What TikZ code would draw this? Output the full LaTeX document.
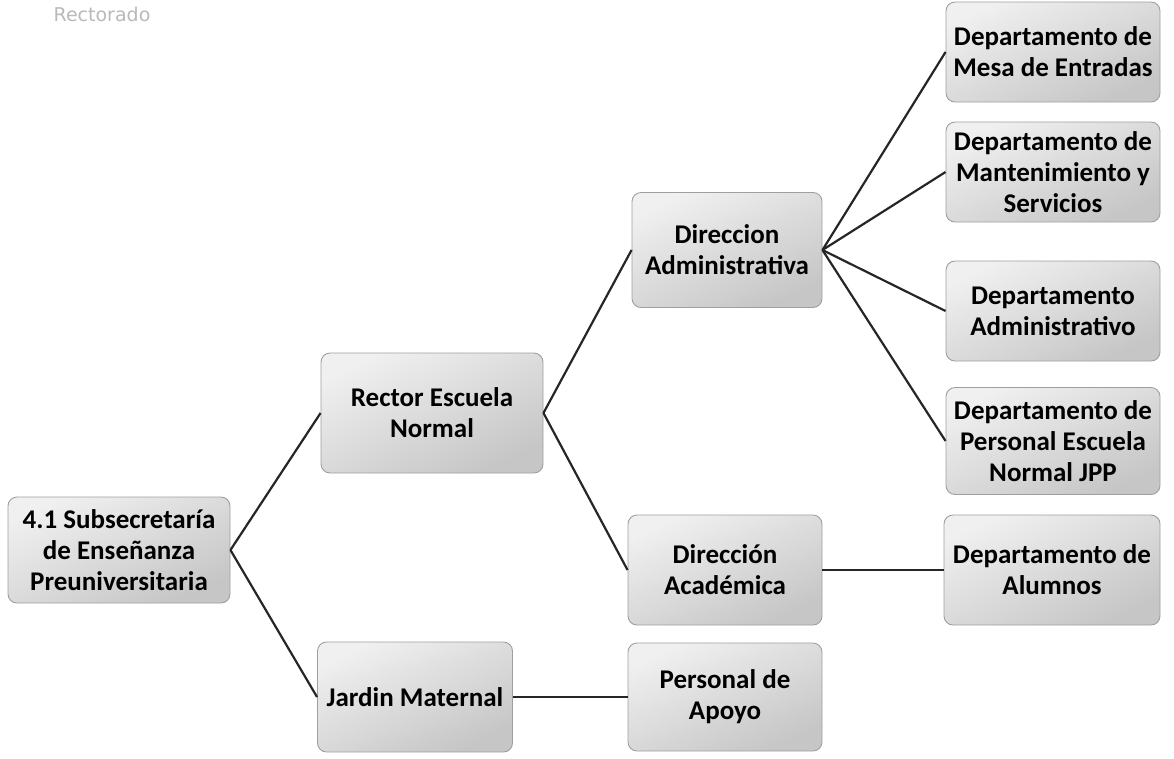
\documentclass[tikz,border=0pt]{standalone}
\usepackage{fontspec}
\setmainfont{Carlito}
\newfontfamily\headfont{DejaVu Sans}
\usepackage{tikz}

\tikzset{
  box/.style={draw=gray!75, line width=0.9pt, rounded corners=9pt,
    top color=gray!12, bottom color=gray!45, shading angle=25,
    align=center, font=\fontsize{27}{31}\selectfont\bfseries, inner sep=1pt},
  link/.style={line width=2.2pt, black!85}
}

\begin{document}
\begin{tikzpicture}[x=1pt, y=-1pt]
  \useasboundingbox (0,0) rectangle (1174,758);

  % heading
  \node[text=gray!55, font=\headfont\fontsize{19}{22}\selectfont] (head) at (102,14) {Rectorado};

  % left levels
  \node[box, minimum width=222, minimum height=106] (sub) at (119,550) {4.1 Subsecretaría\\de Enseñanza\\Preuniversitaria};
  \node[box, minimum width=222, minimum height=120] (rector) at (432,413) {Rector Escuela\\Normal};
  \node[box, minimum width=195, minimum height=110] (jardin) at (415,697) {Jardin Maternal};

  % middle column
  \node[box, minimum width=190, minimum height=115] (diradm) at (727,250) {Direccion\\Administrativa};
  \node[box, minimum width=194, minimum height=110] (diraca) at (725,570) {Dirección\\Académica};
  \node[box, minimum width=194, minimum height=108] (apoyo) at (725,697) {Personal de\\Apoyo};

  % right column
  \node[box, minimum width=214, minimum height=100] (mesa) at (1053,52) {Departamento de\\Mesa de Entradas};
  \node[box, minimum width=214, minimum height=100] (mant) at (1053,172) {Departamento de\\Mantenimiento y\\Servicios};
  \node[box, minimum width=214, minimum height=100] (admin) at (1053,311) {Departamento\\Administrativo};
  \node[box, minimum width=214, minimum height=107] (pers) at (1053,441) {Departamento de\\Personal Escuela\\Normal JPP};
  \node[box, minimum width=216, minimum height=110] (alum) at (1052,570) {Departamento de\\Alumnos};

  % connectors
  \foreach \a/\b in {sub/rector, sub/jardin, rector/diradm, rector/diraca,
                     diradm/mesa, diradm/mant, diradm/admin, diradm/pers,
                     diraca/alum, jardin/apoyo} {
    \draw[link] (\a.east) -- (\b.west);
  }
\end{tikzpicture}
\end{document}
